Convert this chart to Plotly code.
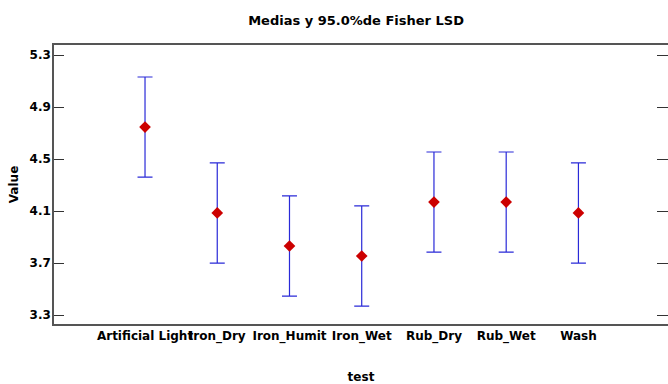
import plotly.graph_objects as go

categories = ["Artificial Light", "Iron_Dry", "Iron_Humit", "Iron_Wet", "Rub_Dry", "Rub_Wet", "Wash"]
means = [4.746, 4.085, 3.831, 3.754, 4.169, 4.169, 4.085]
half_width = [0.385, 0.385, 0.385, 0.385, 0.385, 0.385, 0.385]
y_ticks = [3.3, 3.7, 4.1, 4.5, 4.9, 5.3]

xs = list(range(len(categories)))
font_family = "DejaVu Sans, Arial, sans-serif"
y_range = [3.231, 5.377]

fig = go.Figure()
fig.add_trace(go.Scatter(
    x=xs, y=means, mode="markers",
    marker=dict(symbol="diamond", size=9, color="#cc0000"),
    error_y=dict(type="data", array=half_width, visible=True,
                 color="#2a2ad8", thickness=1.2, width=7.5),
    showlegend=False,
))
# invisible trace on a right-side overlay axis (for the mirrored inside ticks)
fig.add_trace(go.Scatter(x=[xs[0]], y=[means[0]], yaxis="y2", mode="markers",
                         marker=dict(opacity=0), showlegend=False, hoverinfo="skip"))

fig.update_layout(
    width=668, height=384,
    margin=dict(l=54, r=0, t=45, b=60),
    plot_bgcolor="white", paper_bgcolor="white",
    title=dict(text="<b>Medias y 95.0%de Fisher LSD</b>", x=0.533, xanchor="center",
               y=1 - 20 / 384, yanchor="middle",
               font=dict(family=font_family, size=13, color="black")),
    font=dict(family=font_family, size=12, color="black"),
    yaxis2=dict(overlaying="y", side="right", range=y_range, tickmode="array",
                tickvals=y_ticks, showticklabels=False, showline=False,
                showgrid=False, zeroline=False, ticks="inside", ticklen=11,
                tickcolor="#333333", tickwidth=1),
)
fig.update_xaxes(
    range=[-1.26, 7.24], tickmode="array", tickvals=xs,
    ticktext=["<b>%s</b>" % c for c in categories], tickangle=0,
    showgrid=False, zeroline=False, showline=True, linecolor="#555555", linewidth=1.5,
    mirror=True, ticks="", tickfont=dict(size=12, color="black"),
    title=dict(text="<b>test</b>", font=dict(size=12, color="black"), standoff=30),
)
fig.update_yaxes(
    selector=dict(overlaying=None),
    range=y_range, tickmode="array", tickvals=y_ticks,
    ticktext=["<b>%.1f</b>" % v for v in y_ticks],
    showgrid=False, zeroline=False, showline=True, linecolor="#555555", linewidth=1.5,
    mirror=False, ticks="inside", ticklen=10, tickcolor="#333333", tickwidth=1,
    tickfont=dict(size=12, color="black"), ticklabelstandoff=-1,
    title=dict(text="<b>Value</b>", font=dict(size=12, color="black"), standoff=8),
)

fig.write_html("out.html")
